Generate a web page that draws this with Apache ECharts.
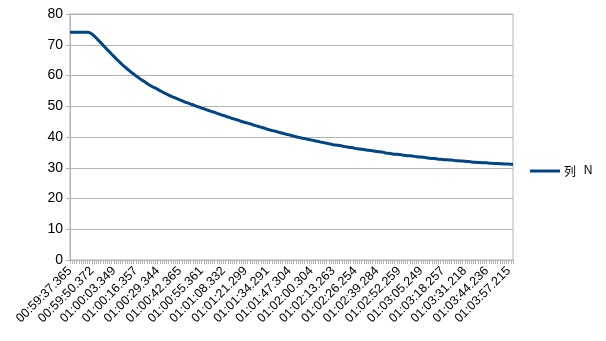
<!DOCTYPE html>
<html>
<head>
<meta charset="utf-8">
<script src="https://cdn.jsdelivr.net/npm/echarts@6/dist/echarts.min.js"></script>
<style>html,body{margin:0;padding:0;background:#fff}#c{width:606px;height:341px}</style>
</head>
<body>
<div id="c"></div>
<script>
var seriesName = '列 N';
var tickLabels = ['00:59:37.365','00:59:50.372','01:00:03.349','01:00:16.357','01:00:29.344','01:00:42.365','01:00:55.361','01:01:08.332','01:01:21.299','01:01:34.291','01:01:47.304','01:02:00.304','01:02:13.263','01:02:26.254','01:02:39.284','01:02:52.259','01:03:05.249','01:03:18.257','01:03:31.218','01:03:44.236','01:03:57.215'];
var values = [
74.1,74.1,74.1,74.1,74.1,74.1,74.1,74.1,74.1,73.9,
73.5,72.9,72.2,71.4,70.7,69.9,69.2,68.4,67.7,66.9,
66.2,65.5,64.8,64.1,63.4,62.8,62.2,61.6,61.0,60.5,
59.9,59.4,58.9,58.4,58.0,57.5,57.0,56.6,56.2,55.9,
55.5,55.1,54.7,54.3,54.0,53.6,53.3,53.0,52.7,52.4,
52.1,51.8,51.5,51.2,51.0,50.7,50.5,50.2,49.9,49.7,
49.4,49.2,48.9,48.7,48.4,48.2,48.0,47.7,47.5,47.2,
47.0,46.8,46.5,46.3,46.0,45.8,45.6,45.4,45.1,44.9,
44.7,44.5,44.3,44.1,43.8,43.6,43.4,43.2,43.0,42.8,
42.5,42.3,42.1,42.0,41.8,41.6,41.4,41.2,41.0,40.8,
40.7,40.5,40.3,40.1,39.9,39.8,39.6,39.5,39.3,39.2,
39.0,38.9,38.7,38.6,38.4,38.3,38.1,38.0,37.8,37.7,
37.5,37.4,37.3,37.2,37.1,36.9,36.8,36.7,36.6,36.5,
36.3,36.2,36.1,36.0,35.9,35.8,35.7,35.6,35.5,35.4,
35.3,35.2,35.1,35.0,34.8,34.7,34.6,34.5,34.4,34.4,
34.3,34.2,34.1,34.0,33.9,33.9,33.8,33.7,33.6,33.5,
33.5,33.4,33.3,33.2,33.1,33.0,33.0,32.9,32.8,32.8,
32.7,32.6,32.6,32.5,32.5,32.4,32.3,32.3,32.2,32.2,
32.1,32.0,32.0,31.9,31.8,31.8,31.7,31.7,31.6,31.6,
31.6,31.5,31.5,31.4,31.4,31.4,31.3,31.3,31.2,31.2,
31.2,31.1,31.1
];
var labelEvery = 10;

var categories = values.map(function (v, i) {
  return (i % labelEvery === 0 && tickLabels[i / labelEvery]) ? tickLabels[i / labelEvery] : '';
});

var chart = echarts.init(document.getElementById('c'), null, {renderer: 'canvas'});
chart.setOption({
  animation: false,
  backgroundColor: '#ffffff',
  textStyle: {fontFamily: 'Liberation Sans'},
  grid: {left: 70, right: 93, top: 14, bottom: 81, show: true, borderColor: '#b3b3b3', borderWidth: 1, backgroundColor: 'transparent'},
  legend: {
    data: [seriesName],
    orient: 'vertical',
    left: 525, top: 160,
    icon: 'rect', itemWidth: 30, itemHeight: 3, itemGap: 5,
    formatter: function (name) {
      var p = name.split(' ');
      return '{c|' + p[0] + ' }{n|' + p[1] + '}';
    },
    textStyle: {
      fontFamily: 'Noto Sans CJK SC', fontSize: 12, color: '#000', padding: [0, 0, 0, -1],
      rich: {
        c: {fontFamily: 'Noto Sans CJK SC', fontSize: 12, color: '#000'},
        n: {fontFamily: 'Liberation Sans', fontSize: 12, color: '#000', padding: [0, 0, 0, 5]}
      }
    }
  },
  xAxis: {
    type: 'category',
    data: categories,
    boundaryGap: false,
    axisLine: {lineStyle: {color: '#b3b3b3', width: 1}},
    axisTick: {show: true, interval: 0, length: 4, lineStyle: {color: '#b3b3b3'}},
    axisLabel: {interval: labelEvery - 1, rotate: 45, fontSize: 12.5, color: '#000', margin: 9, fontFamily: 'Liberation Sans'},
    splitLine: {show: false}
  },
  yAxis: {
    type: 'value',
    min: 0, max: 80, interval: 10,
    axisLine: {show: true, lineStyle: {color: '#b3b3b3', width: 1}},
    axisTick: {show: true, length: 4, lineStyle: {color: '#b3b3b3'}},
    axisLabel: {fontSize: 14, color: '#000', margin: 7, fontFamily: 'Liberation Sans'},
    splitLine: {show: true, lineStyle: {color: '#b3b3b3', width: 1}}
  },
  series: [{
    name: seriesName,
    type: 'line',
    data: values,
    showSymbol: false,
    symbol: 'none',
    lineStyle: {color: '#004586', width: 3},
    itemStyle: {color: '#004586'}
  }]
});
</script>
</body>
</html>
